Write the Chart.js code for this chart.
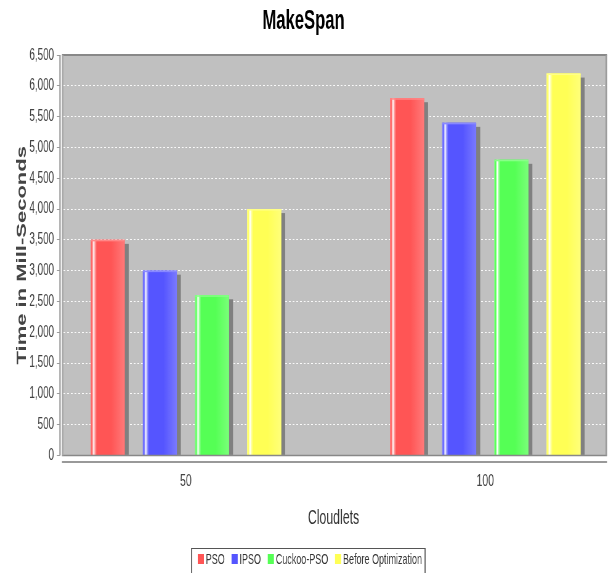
<!DOCTYPE html>
<html><head><meta charset="utf-8">
<script src="https://cdn.jsdelivr.net/npm/chart.js@4"></script>
<style>
html,body{margin:0;padding:0;background:#fff;overflow:hidden;width:616px;height:573px}
#wrap{width:1000px;height:573px;transform:scale(0.616,1);transform-origin:0 0}
canvas{display:block}
</style></head><body>
<div id="wrap"><canvas id="c" width="1000" height="573"></canvas></div>
<script>
// ---- data ----
const categories = ['50', '100'];
const seriesNames = ['PSO', 'IPSO', 'Cuckoo-PSO', 'Before Optimization'];
const psoValues = [3500, 5800];
const ipsoValues = [3000, 5400];
const cuckooValues = [2600, 4800];
const beforeValues = [4000, 6200];
const yTickValues = [0, 500, 1000, 1500, 2000, 2500, 3000, 3500, 4000, 4500, 5000, 5500, 6000, 6500];

// ---- styling ----
const FONT = '"Liberation Sans", Arial, sans-serif';
const colors = ['#ff5555', '#5555ff', '#55ff55', '#ffff55'];
const seriesValues = [psoValues, ipsoValues, cuckooValues, beforeValues];
const PLOT_GAP = 3.2;      // gap between y axis line and plot background
const X_MIN = -0.4206, X_MAX = 1.4066;

function mix(hex, t) {
  const n = parseInt(hex.slice(1), 16);
  const r = (n >> 16) & 255, g = (n >> 8) & 255, b = n & 255;
  const f = c => Math.round(c + (255 - c) * t);
  return `rgb(${f(r)},${f(g)},${f(b)})`;
}

const datasets = seriesNames.map((name, k) => ({
  label: name,
  data: seriesValues[k].map((v, i) => ({ x: i, y: v })),
  backgroundColor: colors[k],
  borderWidth: 0,
  categoryPercentage: 0.697,
  barPercentage: 0.652
}));

const decor = {
  id: 'decor',
  beforeDraw(chart) {
    const { ctx, chartArea: a } = chart;
    ctx.save();
    ctx.fillStyle = '#c0c0c0';
    ctx.fillRect(a.left + PLOT_GAP, a.top, a.right - a.left - PLOT_GAP, a.bottom - a.top);
    ctx.restore();
  },
  beforeDatasetsDraw(chart) {
    const { ctx } = chart;
    ctx.save();
    ctx.fillStyle = '#808080';
    chart.data.datasets.forEach((ds, k) => {
      chart.getDatasetMeta(k).data.forEach(el => {
        const { x, y, base, width } = el.getProps(['x', 'y', 'base', 'width'], true);
        const l = x - width / 2 + 6.5, t = Math.min(y, base) + 4;
        ctx.fillRect(l, t, width, Math.max(base, y) - t);
      });
    });
    ctx.restore();
  },
  afterDatasetsDraw(chart) {
    const { ctx, chartArea: a } = chart;
    ctx.save();
    chart.data.datasets.forEach((ds, k) => {
      const B = ds.backgroundColor;
      chart.getDatasetMeta(k).data.forEach(el => {
        const { x, y, base, width } = el.getProps(['x', 'y', 'base', 'width'], true);
        const l = x - width / 2, top = Math.min(y, base), h = Math.abs(base - y);
        const g = ctx.createLinearGradient(l, 0, l + width, 0);
        g.addColorStop(0, mix(B, 0.35));
        g.addColorStop(0.035, B);
        g.addColorStop(0.06, mix(B, 0.5));
        g.addColorStop(0.09, '#ffffff');
        g.addColorStop(0.12, mix(B, 0.5));
        g.addColorStop(0.18, B);
        g.addColorStop(0.6, B);
        g.addColorStop(1, mix(B, 0.22));
        ctx.fillStyle = g;
        ctx.fillRect(l, top, width, h);
        ctx.fillStyle = mix(B, 0.3);
        ctx.fillRect(l, top, width, 1.5);
      });
    });
    // plot outline
    const pl = a.left + PLOT_GAP;
    ctx.strokeStyle = '#888';
    ctx.lineWidth = 2;
    ctx.beginPath(); ctx.moveTo(pl, a.top); ctx.lineTo(a.right, a.top); ctx.stroke();
    ctx.lineWidth = 1.5;
    ctx.beginPath(); ctx.moveTo(pl, a.bottom); ctx.lineTo(a.right, a.bottom); ctx.stroke();
    ctx.strokeStyle = '#999';
    ctx.lineWidth = 2.5;
    ctx.beginPath(); ctx.moveTo(a.right - 1.2, a.top); ctx.lineTo(a.right - 1.2, a.bottom); ctx.stroke();
    ctx.strokeStyle = '#a8a8a8';
    ctx.beginPath(); ctx.moveTo(pl + 1.2, a.top); ctx.lineTo(pl + 1.2, a.bottom); ctx.stroke();
    ctx.restore();
  },
  afterDraw(chart) {
    const { ctx, chartArea: a } = chart;
    ctx.save();
    // y axis line
    ctx.strokeStyle = '#999';
    ctx.lineWidth = 2.2;
    ctx.beginPath(); ctx.moveTo(a.left, a.top); ctx.lineTo(a.left, a.bottom); ctx.stroke();
    // x axis line (offset below plot)
    ctx.lineWidth = 2;
    ctx.beginPath(); ctx.moveTo(a.left + PLOT_GAP, a.bottom + 6.5); ctx.lineTo(a.right, a.bottom + 6.5); ctx.stroke();

    // legend
    const size = 14.6, box = 10, gap = 3, itemGap = 11, cx = 503, cy = 559;
    ctx.font = `${size}px ${FONT}`;
    const items = chart.data.datasets.map(d => ({ text: d.label, color: d.backgroundColor, w: ctx.measureText(d.label).width }));
    const total = items.reduce((s, it) => s + box + gap + it.w, 0) + itemGap * (items.length - 1);
    let x = cx - total / 2;
    const fl = x - 10, fr = x + total + 5, ft = 548;
    ctx.strokeStyle = '#555';
    ctx.lineWidth = 1;
    ctx.beginPath(); ctx.moveTo(fl, ft + 0.5); ctx.lineTo(fr, ft + 0.5); ctx.stroke();
    ctx.lineWidth = 1.7;
    ctx.beginPath(); ctx.moveTo(fl, ft); ctx.lineTo(fl, 580); ctx.moveTo(fr, ft); ctx.lineTo(fr, 580); ctx.stroke();
    ctx.textBaseline = 'middle';
    ctx.textAlign = 'left';
    items.forEach(it => {
      ctx.fillStyle = it.color;
      ctx.fillRect(x, cy - 5, box, 10);
      ctx.fillStyle = '#333';
      ctx.fillText(it.text, x + box + gap, cy + 0.5);
      x += box + gap + it.w + itemGap;
    });
    ctx.restore();
  }
};

new Chart(document.getElementById('c'), {
  type: 'bar',
  data: { datasets },
  options: {
    responsive: false,
    devicePixelRatio: 1,
    animation: false,
    layout: { padding: { left: 0, right: 14.6, top: 0, bottom: 38.4 } },
    plugins: {
      legend: { display: false },
      tooltip: { enabled: false },
      title: {
        display: true, text: 'MakeSpan', color: '#000',
        font: { family: FONT, size: 27, weight: 'bold' },
        padding: { top: 5.8, bottom: 16.9 }
      }
    },
    scales: {
      x: {
        type: 'linear', min: X_MIN, max: X_MAX, offset: false,
        afterBuildTicks: s => { s.ticks = categories.map((c, i) => ({ value: i })); },
        grid: { display: false, drawTicks: false, offset: false },
        border: { display: false },
        ticks: {
          padding: 15.4, color: '#444', autoSkip: false, maxRotation: 0,
          font: { family: FONT, size: 17 },
          callback: v => categories[v] !== undefined ? categories[v] : ''
        },
        title: {
          display: true, text: 'Cloudlets', color: '#333',
          font: { family: FONT, size: 20 },
          padding: { top: 0, bottom: 4 }
        }
      },
      y: {
        min: 0, max: 6500,
        afterBuildTicks: s => { s.ticks = yTickValues.map(v => ({ value: v })); },
        afterFit: s => { s.width = 97.4; },
        grid: { color: 'rgba(255,255,255,0.9)', lineWidth: 1, tickLength: 5, tickColor: '#999', tickBorderDash: [] },
        border: { display: false, dash: [3, 3] },
        ticks: {
          padding: 4.7, color: '#444',
          font: { family: FONT, size: 16 },
          callback: v => Number(v).toLocaleString('en-US')
        },
        title: {
          display: true, text: 'Time in Mill-Seconds', color: '#444',
          font: { family: FONT, size: 22, weight: 'bold' },
          padding: { top: 22.5, bottom: 0 }
        }
      }
    }
  },
  plugins: [decor]
});
</script>
</body></html>
